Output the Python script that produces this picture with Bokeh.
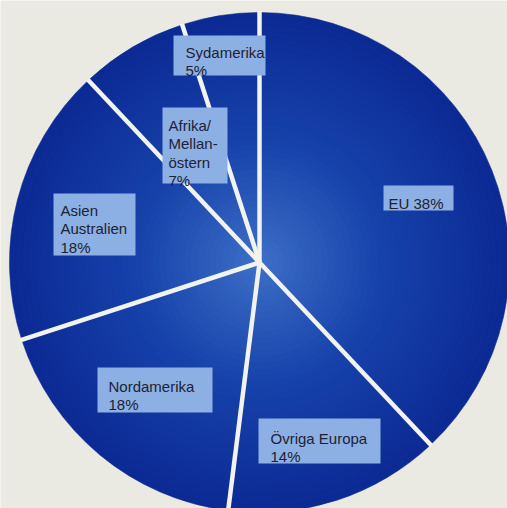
import math
from bokeh.plotting import figure
from bokeh.models import ColumnDataSource, Range1d
from bokeh.core.properties import value
from bokeh.embed import file_html
from bokeh.resources import INLINE

# ---- data ----
regions = ["EU", "Övriga Europa", "Nordamerika", "Asien Australien", "Afrika/Mellanöstern", "Sydamerika"]
shares = [38, 14, 18, 18, 7, 5]
label_lines = [
    ["EU 38%"],
    ["Övriga Europa", "14%"],
    ["Nordamerika", "18%"],
    ["Asien", "Australien", "18%"],
    ["Afrika/", "Mellan-", "östern", "7%"],
    ["Sydamerika", "5%"],
]

# ---- layout (pixel coordinates, y measured from top) ----
W, H = 507, 508
CX, CY, R = 259, 262, 250
# label boxes: left, top, right, bottom ; text start x, first baseline
boxes = [
    (383, 185, 453, 210, 388, 203),
    (258, 418, 380, 463, 270, 438),
    (97, 367, 212, 412, 108, 386),
    (53, 193, 135, 255, 60, 210),
    (162, 107, 227, 183, 168, 125),
    (173, 35, 265, 75, 185, 52),
]
LINE_H = 18.3

p = figure(width=W, height=H, x_range=Range1d(0, W), y_range=Range1d(0, H),
           output_backend="svg", toolbar_location=None, min_border=0)
p.axis.visible = False
p.grid.visible = False
p.outline_line_color = None
p.background_fill_color = "#ebeae2"
p.border_fill_color = "#ebeae2"

cy = H - CY
total = sum(shares)
cum = [0]
for s in shares:
    cum.append(cum[-1] + s)
starts = [math.pi / 2 - cum[i + 1] / total * 2 * math.pi for i in range(len(shares))]
ends = [math.pi / 2 - cum[i] / total * 2 * math.pi for i in range(len(shares))]

# radial gradient built from nested wedges per slice
c_out = (12, 42, 148)
c_mid = (22, 66, 170)
c_in = (62, 112, 200)
def col(t):
    # t: 0 center -> 1 edge
    if t < 0.5:
        u = t / 0.5
        a, b = c_in, c_mid
    else:
        u = (t - 0.5) / 0.5
        a, b = c_mid, c_out
    return "#%02x%02x%02x" % tuple(int(round(a[k] + (b[k] - a[k]) * u)) for k in range(3))

N = 40
xs, ys, rs, sa, ea, cs = [], [], [], [], [], []
for j in range(N):
    t = 1 - j / N
    for i in range(len(shares)):
        xs.append(CX); ys.append(cy); rs.append(R * t)
        sa.append(starts[i]); ea.append(ends[i]); cs.append(col(t))
src = ColumnDataSource(dict(x=xs, y=ys, r=rs, s=sa, e=ea, c=cs))
p.wedge(x="x", y="y", radius="r", start_angle="s", end_angle="e",
        fill_color="c", line_color="c", line_width=0.6, source=src)

# white separators
sep = [math.pi / 2 - c / total * 2 * math.pi for c in cum[:-1]]
p.ray(x=[CX] * len(sep), y=[cy] * len(sep), length=R + 1, angle=sep,
      line_color="#f2f2ee", line_width=4.5)

# label boxes and texts
p.quad(left=[b[0] for b in boxes], right=[b[2] for b in boxes],
       top=[H - b[1] for b in boxes], bottom=[H - b[3] for b in boxes],
       fill_color="#8cb0e4", line_color=None)
tx, ty, tt = [], [], []
for b, lines in zip(boxes, label_lines):
    for k, ln in enumerate(lines):
        tx.append(b[4]); ty.append(H - (b[5] + k * LINE_H)); tt.append(ln)
p.text(x=tx, y=ty, text=tt, text_font=value("Liberation Sans"),
       text_font_size="15px", text_color="#1e2232", text_baseline="alphabetic")

open("out.html", "w").write(file_html(p, INLINE))
